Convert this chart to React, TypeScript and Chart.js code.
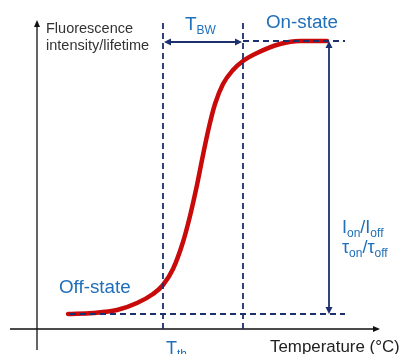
import React, { useEffect, useRef } from "react";
import { Chart, registerables } from "chart.js";

Chart.register(...registerables);

// Sigmoid response (temperature units, signal units)
const temperatureValues = [31, 56, 80, 100, 116, 126, 136, 146, 153, 160, 166, 172, 178, 186, 196, 206, 220, 243, 263, 290];
const signalValues = [15, 16, 19, 26, 35, 44, 60, 87, 113, 144, 174, 202, 225, 245, 259, 268, 276, 285, 288, 288];

const offLevel = 15;
const onLevel = 288;
const thresholdT = 126; // T_th
const switchedT = 206; // T_th + T_BW
const levelLineStart = 33;
const levelLineEnd = 308;
const verticalTop = 309;
const ratioArrowT = 292;

const xAxisRange = [-27, 343];
const yAxisRange = [-21, 309];

const NAVY = "#1c2f6e";
const BLUE = "#1f6fba";
const RED = "#c80a0a";
const FONT = "'Liberation Sans', Arial, sans-serif";

type Part = { t: string; sub?: boolean };

function drawParts(ctx: CanvasRenderingContext2D, parts: Part[], x: number, y: number, size: number, subSize: number, color: string) {
  ctx.save();
  ctx.fillStyle = color;
  ctx.textBaseline = "alphabetic";
  ctx.textAlign = "left";
  let cx = x;
  for (const p of parts) {
    ctx.font = `${p.sub ? subSize : size}px ${FONT}`;
    ctx.fillText(p.t, cx, p.sub ? y + 4 : y);
    cx += ctx.measureText(p.t).width;
  }
  ctx.restore();
}

function arrowHead(ctx: CanvasRenderingContext2D, x: number, y: number, angle: number, len: number, half: number, color: string) {
  ctx.save();
  ctx.translate(x, y);
  ctx.rotate(angle);
  ctx.fillStyle = color;
  ctx.beginPath();
  ctx.moveTo(0, 0);
  ctx.lineTo(-len, -half);
  ctx.lineTo(-len, half);
  ctx.closePath();
  ctx.fill();
  ctx.restore();
}

const overlayPlugin = {
  id: "schematicOverlay",
  beforeDatasetsDraw(chart: any) {
    const ctx: CanvasRenderingContext2D = chart.ctx;
    const xs = chart.scales.x;
    const ys = chart.scales.y;
    ctx.save();
    ctx.strokeStyle = "#111";
    ctx.lineWidth = 1.3;
    const x0 = xs.getPixelForValue(0);
    const y0 = ys.getPixelForValue(0);
    ctx.beginPath();
    ctx.moveTo(xs.getPixelForValue(xAxisRange[0]), y0);
    ctx.lineTo(xs.getPixelForValue(xAxisRange[1]) - 4, y0);
    ctx.moveTo(x0, ys.getPixelForValue(yAxisRange[0]));
    ctx.lineTo(x0, ys.getPixelForValue(yAxisRange[1]) + 4);
    ctx.stroke();
    ctx.restore();
    arrowHead(ctx, xs.getPixelForValue(xAxisRange[1]), y0, 0, 7, 3, "#111");
    arrowHead(ctx, x0, ys.getPixelForValue(yAxisRange[1]), -Math.PI / 2, 7, 3, "#111");
  },
  afterDatasetsDraw(chart: any) {
    const ctx: CanvasRenderingContext2D = chart.ctx;
    const xs = chart.scales.x;
    const ys = chart.scales.y;
    const ay = ys.getPixelForValue(287);
    const ax1 = xs.getPixelForValue(thresholdT) + 1;
    const ax2 = xs.getPixelForValue(switchedT) - 1;
    ctx.save();
    ctx.strokeStyle = NAVY;
    ctx.lineWidth = 1.8;
    ctx.beginPath();
    ctx.moveTo(ax1 + 5, ay);
    ctx.lineTo(ax2 - 5, ay);
    ctx.stroke();
    ctx.restore();
    arrowHead(ctx, ax1, ay, Math.PI, 7, 3.5, NAVY);
    arrowHead(ctx, ax2, ay, 0, 7, 3.5, NAVY);
    const rx = xs.getPixelForValue(ratioArrowT);
    const ry1 = ys.getPixelForValue(onLevel);
    const ry2 = ys.getPixelForValue(offLevel);
    ctx.save();
    ctx.strokeStyle = NAVY;
    ctx.lineWidth = 1.8;
    ctx.beginPath();
    ctx.moveTo(rx, ry1 + 5);
    ctx.lineTo(rx, ry2 - 5);
    ctx.stroke();
    ctx.restore();
    arrowHead(ctx, rx, ry1, -Math.PI / 2, 7, 3.5, NAVY);
    arrowHead(ctx, rx, ry2, Math.PI / 2, 7, 3.5, NAVY);

    drawParts(ctx, [{ t: "Fluorescence" }], 46, 33, 14.5, 10, "#333");
    drawParts(ctx, [{ t: "intensity/lifetime" }], 46, 50, 14.5, 10, "#333");
    drawParts(ctx, [{ t: "T" }, { t: "BW", sub: true }], 185, 30, 19, 12, BLUE);
    drawParts(ctx, [{ t: "On-state" }], 266, 28, 18.8, 12, BLUE);
    drawParts(ctx, [{ t: "Off-state" }], 59, 293, 18.8, 12, BLUE);
    drawParts(ctx, [{ t: "I" }, { t: "on", sub: true }, { t: "/I" }, { t: "off", sub: true }], 342, 233, 18, 12, BLUE);
    drawParts(ctx, [{ t: "τ" }, { t: "on", sub: true }, { t: "/τ" }, { t: "off", sub: true }], 342, 253, 18, 12, BLUE);
    drawParts(ctx, [{ t: "T" }, { t: "th", sub: true }], 166, 354, 18, 12, BLUE);
    drawParts(ctx, [{ t: "Temperature (°C)" }], 270, 352, 16.9, 12, "#222");
  },
};

export default function App() {
  const canvasRef = useRef<HTMLCanvasElement | null>(null);

  useEffect(() => {
    if (!canvasRef.current) return;
    const dashed = {
      borderColor: NAVY,
      borderWidth: 1.8,
      borderDash: [6, 4],
      pointRadius: 0,
      fill: false,
      tension: 0,
    };
    const chart = new Chart(canvasRef.current, {
      type: "line",
      data: {
        datasets: [
          { ...dashed, data: [{ x: levelLineStart, y: offLevel }, { x: levelLineEnd, y: offLevel }], order: 1 },
          { ...dashed, data: [{ x: switchedT, y: onLevel }, { x: levelLineEnd, y: onLevel }], order: 1 },
          { ...dashed, data: [{ x: thresholdT, y: 0 }, { x: thresholdT, y: verticalTop }], order: 1 },
          { ...dashed, data: [{ x: switchedT, y: 0 }, { x: switchedT, y: verticalTop }], order: 1 },
          {
            data: temperatureValues.map((t, i) => ({ x: t, y: signalValues[i] })),
            borderColor: RED,
            borderWidth: 4.5,
            pointRadius: 0,
            cubicInterpolationMode: "monotone",
            borderCapStyle: "round",
            fill: false,
            order: 2,
          },
        ],
      },
      options: {
        animation: false,
        responsive: false,
        events: [],
        layout: { padding: 0 },
        plugins: { legend: { display: false }, tooltip: { enabled: false }, title: { display: false } },
        scales: {
          x: { type: "linear", min: -37, max: 369, display: false },
          y: { type: "linear", min: -25, max: 329, display: false },
        },
      } as any,
      plugins: [overlayPlugin],
    });
    return () => chart.destroy();
  }, []);

  return (
    <div style={{ position: "fixed", left: 0, top: 0, width: 406, height: 354, background: "#fff" }}>
      <canvas ref={canvasRef} width={406} height={354} style={{ display: "block" }} />
    </div>
  );
}
